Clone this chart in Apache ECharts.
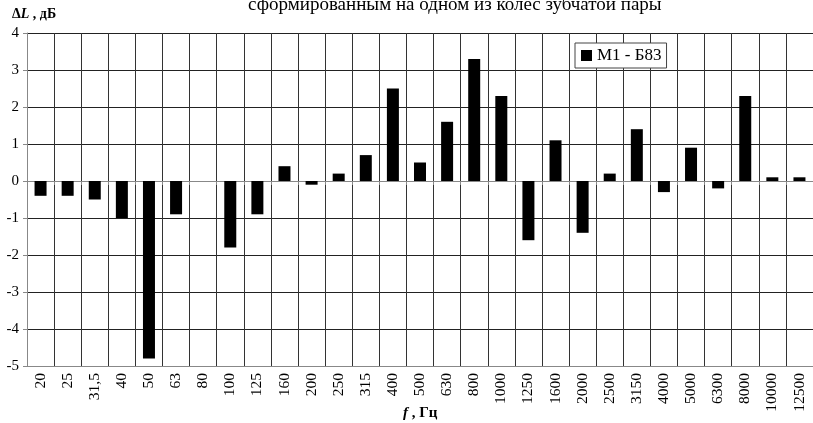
<!DOCTYPE html>
<html><head><meta charset="utf-8">
<script src="https://cdn.jsdelivr.net/npm/echarts@6/dist/echarts.min.js"></script>
<style>html,body{margin:0;padding:0;background:#fff}#c{width:813px;height:423px}</style>
</head><body><div id="c"></div>
<script>
const categories = ['20','25','31,5','40','50','63','80','100','125','160','200','250','315','400','500','630','800','1000','1250','1600','2000','2500','3150','4000','5000','6300','8000','10000','12500'];
const values = [-0.4,-0.4,-0.5,-1.0,-4.8,-0.9,0,-1.8,-0.9,0.4,-0.1,0.2,0.7,2.5,0.5,1.6,3.3,2.3,-1.6,1.1,-1.4,0.2,1.4,-0.3,0.9,-0.2,2.3,0.1,0.1];
const yTicks = {min:-5, max:4, interval:1};
const seriesName = 'М1 - Б83';
const titleText = 'сформированным на одном из колес зубчатой пары';

const serif = '"Liberation Serif","DejaVu Serif",serif';
const chart = echarts.init(document.getElementById('c'), null, {renderer:'canvas'});
chart.setOption({
  animation:false,
  title:{text:titleText,left:243,top:-9,textStyle:{fontFamily:serif,fontSize:19,fontWeight:'normal',color:'#000'}},
  legend:{data:[seriesName],left:575,top:43,orient:'horizontal',backgroundColor:'#fff',borderColor:'#444',borderWidth:1,padding:[4,5,4,6],itemWidth:11,itemHeight:11,itemGap:3,icon:'rect',textStyle:{fontFamily:serif,fontSize:17,color:'#000'}},
  grid:{left:27,top:33,width:789,bottom:57,containLabel:false},
  graphic:[
    {type:'text',left:12,top:7,style:{text:'{d|Δ}{i|L}{b| , дБ}',rich:{d:{fontFamily:serif,fontSize:14,fontWeight:'bold',fill:'#000'},i:{fontFamily:serif,fontSize:14,fontWeight:'bold',fontStyle:'italic',fill:'#000'},b:{fontFamily:serif,fontSize:14,fontWeight:'bold',fill:'#000'}}}},
    {type:'text',left:403,top:406,style:{text:'{i|f}{b| , Гц}',rich:{i:{fontFamily:serif,fontSize:15,fontWeight:'bold',fontStyle:'italic',fill:'#000'},b:{fontFamily:serif,fontSize:15,fontWeight:'bold',fill:'#000'}}}}
  ],
  xAxis:[
    {type:'category',data:categories,position:'bottom',axisLine:{onZero:false,lineStyle:{color:'#888',width:1}},axisTick:{show:false},
     splitLine:{show:true,interval:0,lineStyle:{color:'#333',width:1}},
     axisLabel:{interval:0,rotate:90,margin:7,fontFamily:serif,fontSize:15.5,color:'#000'}},
    {type:'category',data:categories,position:'bottom',axisLine:{onZero:true,lineStyle:{color:'#888',width:1}},
     axisTick:{show:true,interval:0,length:4,inside:false,lineStyle:{color:'#888'}},axisLabel:{show:false},splitLine:{show:false}}
  ],
  yAxis:{type:'value',min:yTicks.min,max:yTicks.max,interval:yTicks.interval,
    axisLine:{show:true,lineStyle:{color:'#888'}},axisTick:{show:true,length:4,lineStyle:{color:'#888'}},
    splitLine:{show:true,lineStyle:{color:'#222',width:1}},
    axisLabel:{margin:8,fontFamily:serif,fontSize:15,color:'#000'}},
  series:[{name:seriesName,type:'bar',data:values,barWidth:12,xAxisIndex:0,itemStyle:{color:'#000'},z:3}]
});
</script></body></html>
